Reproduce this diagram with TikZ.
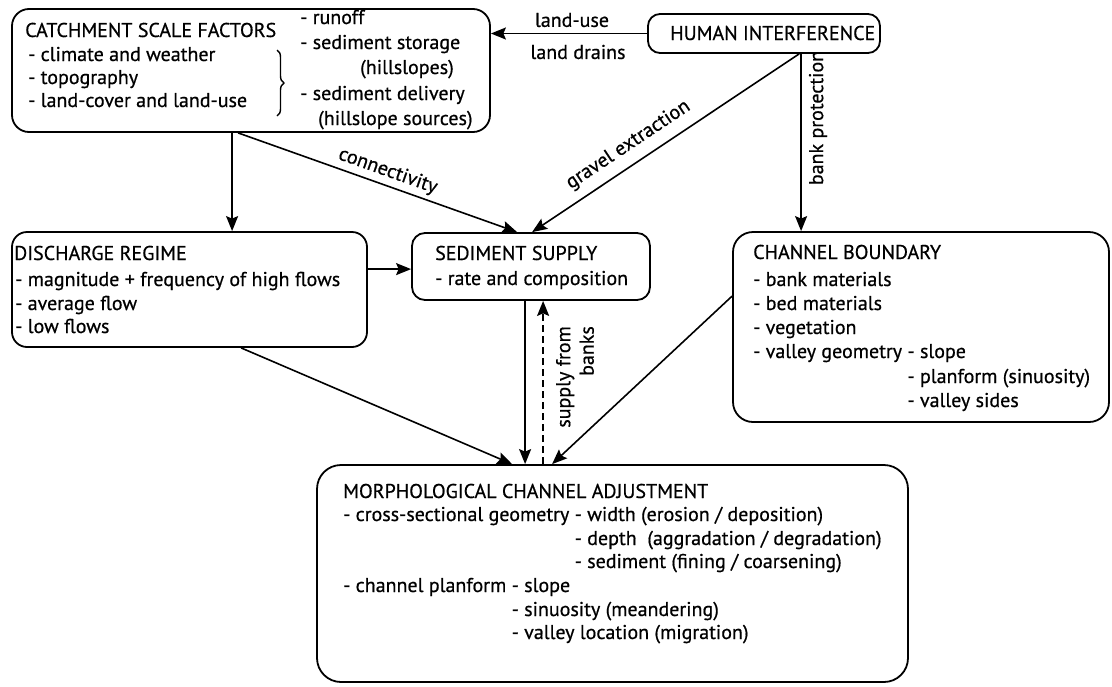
\documentclass[tikz,border=0pt]{standalone}
\usepackage{fontspec}
\setmainfont{PT Sans}[FakeBold=0.6]
\usetikzlibrary{arrows.meta,calc,decorations.pathreplacing}
\newcommand\fsz{\fontsize{20}{23.5}\selectfont}
\begin{document}
\begin{tikzpicture}[x=1pt,y=-1pt,
  box/.style={draw,rounded corners=15pt,line width=1.8pt,inner sep=0pt},
  txt/.style={anchor=base west,inner sep=0pt,font=\fsz},
  lbl/.style={inner sep=0pt,font=\fsz},
  arr/.style={-{Stealth[length=15pt,width=12pt,inset=2.5pt]},line width=1.6pt},
]
\useasboundingbox (0,0) rectangle (1112,686);
% boxes
\node[box,rounded corners=17pt,minimum width=478pt,minimum height=123pt] (catch) at (251,70.5) {};
\node[box,rounded corners=12pt,minimum width=232pt,minimum height=39pt] (human) at (764,33.5) {};
\node[box,minimum width=355pt,minimum height=115pt] (disch) at (189.5,289.5) {};
\node[box,rounded corners=13pt,minimum width=238pt,minimum height=67pt] (sed) at (531,266.5) {};
\node[box,rounded corners=20pt,minimum width=376pt,minimum height=190pt] (chan) at (921,327) {};
\node[box,rounded corners=24pt,minimum width=591pt,minimum height=217pt] (morph) at (612.5,573.5) {};
% catchment texts
\node[txt] (c1) at (25,37) {CATCHMENT SCALE FACTORS};
\node[txt] (c2) at (28,61) {- climate and weather};
\node[txt] (c3) at (28,84) {- topography};
\node[txt] (c4) at (28,107) {- land-cover and land-use};
\draw[line width=1.4pt,decorate,decoration={brace,amplitude=7pt}] (277,50) -- (277,116);
\node[txt] (c5) at (300,24) {- runoff};
\node[txt] (c6) at (300,49) {- sediment storage};
\node[txt] (c7) at (360,74) {(hillslopes)};
\node[txt] (c8) at (300,100) {- sediment delivery};
\node[txt] (c9) at (318,125) {(hillslope sources)};
% human
\node[txt] (h1) at (670,40) {HUMAN INTERFERENCE};
% discharge
\node[txt] (d1) at (14,260) {DISCHARGE REGIME};
\node[txt] (d2) at (15,286) {- magnitude + frequency of high flows};
\node[txt] (d3) at (15,310) {- average flow};
\node[txt] (d4) at (15,333) {- low flows};
% sediment
\node[txt] (s1) at (435,260) {SEDIMENT SUPPLY};
\node[txt] (s2) at (435,285) {- rate and composition};
% channel boundary
\node[txt] (b1) at (753,259) {CHANNEL BOUNDARY};
\node[txt] (b2) at (753,286) {- bank materials};
\node[txt] (b3) at (753,310) {- bed materials};
\node[txt] (b4) at (753,334) {- vegetation};
\node[txt] (b5) at (753,358) {- valley geometry};
\node[txt] (b6) at ($(b5.base east)+(5,0)$) {- slope};
\node[txt] (b7) at (b6.base west |- 0,383) {- planform (sinuosity)};
\node[txt] (b8) at (b6.base west |- 0,407) {- valley sides};
% morph
\node[txt] (m1) at (343,498) {MORPHOLOGICAL CHANNEL ADJUSTMENT};
\node[txt] (m2) at (343,521) {- cross-sectional geometry};
\node[txt] (m3) at ($(m2.base east)+(5,0)$) {- width (erosion / deposition)};
\node[txt] (m4) at (m3.base west |- 0,545) {- depth\ \ (aggradation / degradation)};
\node[txt] (m5) at (m3.base west |- 0,568) {- sediment (fining / coarsening)};
\node[txt] (m6) at (343,592) {- channel planform};
\node[txt] (m7) at ($(m6.base east)+(5,0)$) {- slope};
\node[txt] (m8) at (m7.base west |- 0,616) {- sinuosity (meandering)};
\node[txt] (m9) at (m7.base west |- 0,639) {- valley location (migration)};
% connectors
\draw[arr] (human.west) -- (catch.east |- human.west);
\node[lbl] (l1) at (572,20) {land-use};
\node[lbl] (l2) at (578,52) {land drains};
\draw[arr] ($(catch.south west)+(221,0)$) -- ($(disch.north west)+(221,0)$);
\draw[arr] ($(catch.south west)+(227,0)$) -- node[lbl,sloped,above=4pt,pos=0.52] (l3) {connectivity} ($(sed.north west)+(106,0)$);
\draw[arr] ($(human.south west)+(152,0)$) -- node[lbl,sloped,above=9pt,pos=0.6] (l4) {gravel extraction} ($(sed.north west)+(121,0)$);
\draw[arr] ($(human.south west)+(154,0)$) -- ($(chan.north west)+(69,0)$);
\node[lbl,rotate=90] (l5) at (818,118) {bank protection};
\draw[arr] ($(disch.north east)+(0,38)$) -- (sed.west |- {$(disch.north east)+(0,38)$});
\draw[arr] ($(disch.south west)+(230,0)$) -- ($(morph.north west)+(196,0)$);
\draw[arr] ($(sed.south west)+(114,0)$) -- ($(morph.north west)+(209,0)$);
\draw[arr,dashed,dash pattern=on 7pt off 4pt] ($(morph.north west)+(227,0)$) -- ($(sed.south west)+(132,0)$);
\node[lbl,rotate=90,anchor=east,align=right] (l6) at (575,326) {supply from\\banks};
\draw[arr] ($(chan.north west)+(0,65)$) -- ($(morph.north west)+(236,0)$);
\end{tikzpicture}
\end{document}
